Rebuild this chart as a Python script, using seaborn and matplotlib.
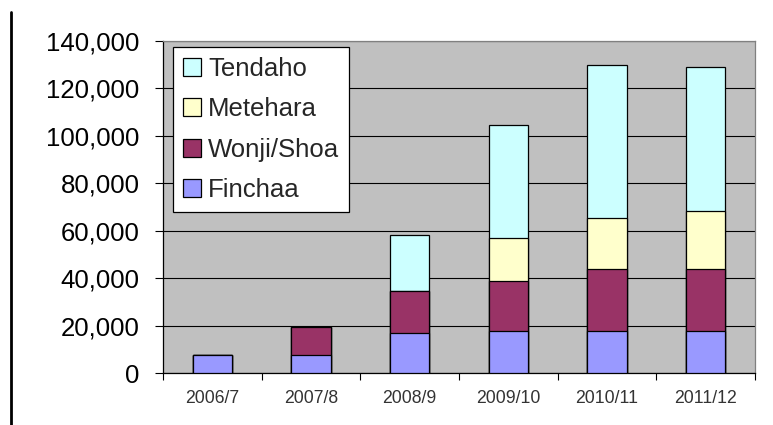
import matplotlib
matplotlib.use("Agg")
import matplotlib.pyplot as plt
import seaborn as sns
import numpy as np
import pandas as pd
from matplotlib.lines import Line2D
from matplotlib.patches import Patch
from matplotlib.ticker import FuncFormatter, FixedLocator

# Data (tonnes)
years = ["2006/7", "2007/8", "2008/9", "2009/10", "2010/11", "2011/12"]
finchaa = [7600, 7600, 17000, 18000, 18000, 18000]
wonji_shoa = [0, 12100, 17700, 21000, 25900, 25900]
metehara = [0, 0, 0, 17800, 21500, 24400]
tendaho = [0, 0, 23500, 48000, 64300, 60800]

series_names = ["Finchaa", "Wonji/Shoa", "Metehara", "Tendaho"]
series_values = [finchaa, wonji_shoa, metehara, tendaho]
colors = ["#9999FF", "#993366", "#FFFFCC", "#CCFFFF"]

sns.set_theme(style="white")
plt.rcParams["font.family"] = ["Liberation Sans", "DejaVu Sans"]

fig = plt.figure(figsize=(7.73, 4.25), dpi=100)
ax = fig.add_axes([163 / 773, 1 - 373.3 / 425, (755 - 163) / 773, (373.3 - 41) / 425])
ax.set_facecolor("#C0C0C0")

cum = np.cumsum(np.array(series_values), axis=0)
# Draw tallest cumulative first so lower segments overlay
for i in range(len(series_names) - 1, -1, -1):
    df = pd.DataFrame({"year": years, "value": cum[i]})
    sns.barplot(data=df, x="year", y="value", color=colors[i], width=0.4,
                edgecolor="black", linewidth=0.9, saturation=1, ax=ax, zorder=3)

ax.set_xlim(-0.5, 5.5)
ax.set_ylim(0, 140000)
ax.set_yticks(np.arange(0, 140001, 20000))
ax.yaxis.set_major_formatter(FuncFormatter(lambda v, p: f"{int(v):,}"))
ax.grid(axis="y", color="black", linewidth=0.8, zorder=1)
ax.set_axisbelow(True)

ax.set_xlabel("")
ax.set_ylabel("")
ax.tick_params(axis="y", which="major", length=6, width=0.8, color="black",
               pad=11, labelsize=18.5, labelcolor="black", left=True)
ax.tick_params(axis="x", which="major", length=0, pad=12, labelsize=12.7,
               labelcolor="#333333")
ax.xaxis.set_minor_locator(FixedLocator(np.arange(-0.5, 6.0, 1.0)))
ax.tick_params(axis="x", which="minor", length=5, width=0.8, color="black",
               bottom=True)

for side in ["left", "bottom"]:
    ax.spines[side].set_color("black")
    ax.spines[side].set_linewidth(0.9)
for side in ["top", "right"]:
    ax.spines[side].set_visible(True)
    ax.spines[side].set_color("#808080")
    ax.spines[side].set_linewidth(0.9)

handles = [Patch(facecolor=colors[i], edgecolor="black", linewidth=0.9, label=series_names[i])
           for i in range(len(series_names) - 1, -1, -1)]
leg = ax.legend(handles=handles, loc="upper left",
                bbox_to_anchor=((173 - 163) / 592, 1 - (47 - 41) / 332.3),
                borderaxespad=0, fontsize=18.5, frameon=True, fancybox=False,
                edgecolor="black", framealpha=1, facecolor="white",
                handlelength=0.7, handleheight=0.7, handletextpad=0.28,
                labelspacing=0.64, borderpad=0.38)
leg.get_frame().set_linewidth(0.9)
leg.set_zorder(5)

fig.add_artist(Line2D([11 / 773, 11 / 773], [0, 1 - 12 / 425], color="black",
                      linewidth=2, transform=fig.transFigure))

fig.savefig("out.png", dpi=100)
